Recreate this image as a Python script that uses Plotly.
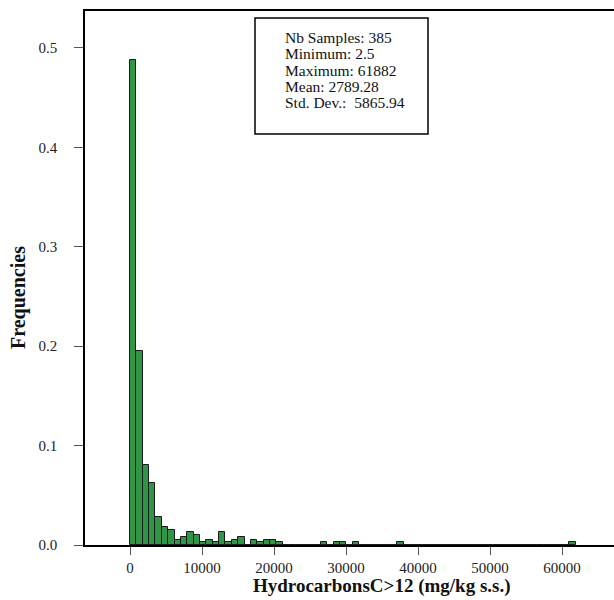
import numpy as np
import plotly.graph_objects as go

# Histogram data (70 equal bins from min to max)
n_samples = 385
min_val = 2.5
max_val = 61882
n_bins = 70
counts = [188, 75, 31, 24, 11, 7, 6, 2, 3, 5,
          4, 1, 2, 1, 5, 1, 2, 3, 0, 2,
          1, 2, 2, 1, 0, 0, 0, 0, 0, 0,
          1, 0, 1, 1, 0, 1, 0, 0, 0, 0,
          0, 0, 1, 0, 0, 0, 0, 0, 0, 0,
          0, 0, 0, 0, 0, 0, 0, 0, 0, 0,
          0, 0, 0, 0, 0, 0, 0, 0, 0, 1]
stats_lines = ["Nb Samples: 385", "Minimum: 2.5", "Maximum: 61882",
               "Mean: 2789.28", "Std. Dev.:  5865.94"]
x_ticks = [0, 10000, 20000, 30000, 40000, 50000, 60000]
y_ticks = [0.0, 0.1, 0.2, 0.3, 0.4, 0.5]
y_tick_text = ["0.0", "0.1", "0.2", "0.3", "0.4", "0.5"]

bin_w = (max_val - min_val) / n_bins
edges = min_val + bin_w * np.arange(n_bins)
centers = edges + bin_w / 2
freqs = np.array(counts) / n_samples

FONT = "Liberation Serif"

fig = go.Figure()
fig.add_trace(go.Bar(
    x=centers, y=freqs, width=bin_w,
    marker=dict(color="#2e9646", line=dict(color="#1a1a1a", width=1)),
    showlegend=False,
))

W, H = 614, 600
L, R, T, B = 85, 0, 11, 55

fig.update_layout(
    width=W, height=H,
    margin=dict(l=L, r=R, t=T, b=B),
    paper_bgcolor="white", plot_bgcolor="white",
    font=dict(family=FONT, size=15, color="#222"),
    bargap=0,
    xaxis=dict(
        range=[-6250, 67222], tickvals=x_ticks, ticktext=[str(v) for v in x_ticks],
        showgrid=False, zeroline=False,
        showline=True, linecolor="black", linewidth=1.5, mirror=True,
        ticks="outside", ticklen=8, tickcolor="#555", tickwidth=1.2,
        ticklabelstandoff=0,
        tickfont=dict(family=FONT, size=15, color="#222"),
    ),
    yaxis=dict(
        range=[0, 0.5372], tickvals=y_ticks, ticktext=y_tick_text,
        showgrid=False, zeroline=False,
        showline=True, linecolor="black", linewidth=1.5, mirror=False,
        ticks="outside", ticklen=9, tickcolor="#555", tickwidth=1.2,
        ticklabelstandoff=14,
        tickfont=dict(family=FONT, size=15, color="#222"),
    ),
)

pw, ph = W - L - R, H - T - B

# Axis titles
fig.add_annotation(
    text="<b>HydrocarbonsC>12 (mg/kg s.s.)</b>", xref="paper", yref="paper",
    x=(382 - L) / pw, y=-(586 - (H - B)) / ph,
    xanchor="center", yanchor="middle", showarrow=False,
    font=dict(family=FONT, size=19, color="#111"),
)
fig.add_annotation(
    text="<b>Frequencies</b>", xref="paper", yref="paper",
    x=-(L - 18) / pw, y=(H - B - 298) / ph,
    xanchor="center", yanchor="middle", textangle=-90, showarrow=False,
    font=dict(family=FONT, size=20, color="#111"),
)

# Stats box
bx0, bx1, by0, by1 = 255, 428, 18, 134
fig.add_shape(type="rect", xref="paper", yref="paper",
              x0=(bx0 - L) / pw, x1=(bx1 - L) / pw,
              y0=(H - B - by1) / ph, y1=(H - B - by0) / ph,
              line=dict(color="black", width=1.5), fillcolor="white")
for i, line in enumerate(stats_lines):
    yc = 37 + 16.5 * i
    fig.add_annotation(
        text=line, xref="paper", yref="paper",
        x=(283 - L) / pw, y=(H - B - yc) / ph,
        xanchor="left", yanchor="middle", showarrow=False,
        font=dict(family=FONT, size=15.5, color="#111"),
    )

fig.write_html("out.html")
